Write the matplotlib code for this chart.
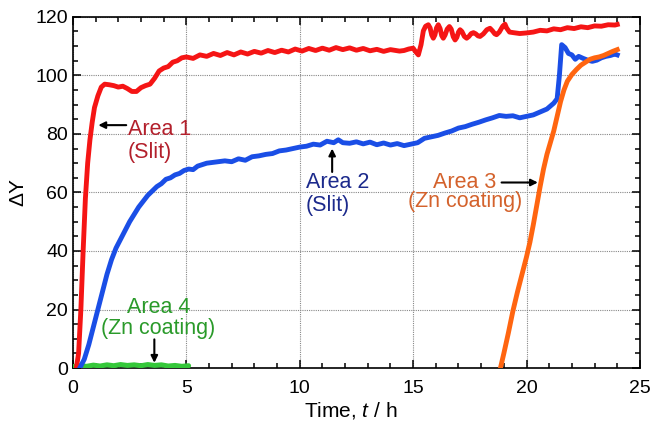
import matplotlib
matplotlib.use("Agg")
import matplotlib.pyplot as plt
from matplotlib.ticker import MultipleLocator

plt.rcParams['font.family'] = ['Liberation Sans', 'DejaVu Sans']
plt.rcParams['mathtext.fontset'] = 'custom'
plt.rcParams['mathtext.rm'] = 'Liberation Sans'
plt.rcParams['mathtext.it'] = 'Liberation Sans:italic'

# Area 1 (Slit) - red
t1 = [0.15, 0.25, 0.35, 0.45, 0.55, 0.65, 0.75, 0.85, 0.95, 1.1, 1.25, 1.4, 1.6, 1.8, 2.0, 2.2, 2.4, 2.6, 2.8,
      3.0, 3.2, 3.4, 3.6, 3.8, 4.0, 4.2, 4.4, 4.6, 4.8, 5.0, 5.3, 5.6, 5.9, 6.2, 6.5, 6.8, 7.1, 7.4, 7.7, 8.0,
      8.3, 8.6, 8.9, 9.2, 9.5, 9.8, 10.1, 10.4, 10.7, 11.0, 11.3, 11.6, 11.9, 12.2, 12.5, 12.8, 13.1, 13.4,
      13.7, 14.0, 14.4, 14.6, 14.8, 15.0, 15.1, 15.23, 15.35, 15.45, 15.55, 15.67, 15.75, 15.82, 15.89, 15.96,
      16.03, 16.11, 16.19, 16.26, 16.33, 16.41, 16.5, 16.6, 16.68, 16.77, 16.85, 16.93, 17.0, 17.07, 17.15,
      17.26, 17.36, 17.46, 17.56, 17.66, 17.76, 17.86, 17.95, 18.1, 18.25, 18.39, 18.5, 18.6, 18.68, 18.8,
      18.95, 19.05, 19.12, 19.25, 19.42, 19.7, 20.0, 20.3, 20.6, 20.9, 21.2, 21.5, 21.8, 22.1, 22.4, 22.7,
      23.0, 23.3, 23.6, 23.9, 24.0]
y1 = [0, 5, 20, 40, 58, 70, 78, 84, 89, 93, 96, 97, 96.8, 96.5, 96, 96.3, 95.5, 94.5, 94.5,
      95.8, 96.5, 97, 99, 101.5, 102.5, 103, 104.5, 105, 106, 106.3, 105.8, 107, 106.5, 107.5, 106.8, 107.8,
      107, 108, 107.3, 108.2, 107.6, 108.5, 107.8, 108.6, 108, 109, 108.3, 109.2, 108.5, 109.3, 108.6, 109.5,
      108.8, 109.4, 108.6, 109.2, 108.4, 108.9, 108.2, 108.8, 108.3, 108.5, 109.0, 109.3, 108.2, 107.0,
      110.5, 115.2, 116.8, 117.3, 116.2, 113.8, 112.7, 113.8, 116.2, 117.3, 116.0, 113.6, 112.7, 113.8,
      115.8, 116.7, 115.8, 113.2, 112.1, 113.0, 114.8, 115.6, 115.0, 113.3, 112.7, 113.3, 114.3, 114.6,
      114.2, 113.5, 113.3, 114.2, 115.6, 116.1, 115.2, 114.2, 113.9, 114.8, 116.8, 117.5, 116.2, 114.8,
      114.6, 114.3, 114.5, 114.8, 115.4, 115.2, 115.9, 115.6, 116.3, 116.0, 116.6, 116.3, 116.9, 116.8,
      117.3, 117.2, 117.4]

# Area 2 (Slit) - blue
t2 = [0.3, 0.5, 0.7, 0.9, 1.1, 1.3, 1.5, 1.7, 1.9, 2.1, 2.3, 2.5, 2.7, 2.9, 3.1, 3.3, 3.5, 3.7, 3.9, 4.1,
      4.3, 4.5, 4.7, 4.9, 5.1, 5.3, 5.5, 5.7, 5.9, 6.1, 6.4, 6.7, 7.0, 7.3, 7.6, 7.9, 8.2, 8.5, 8.8, 9.1,
      9.4, 9.7, 10.0, 10.3, 10.6, 10.9, 11.2, 11.5, 11.7, 11.9, 12.2, 12.5, 12.8, 13.1, 13.4, 13.7, 14.0,
      14.3, 14.6, 14.9, 15.2, 15.5, 15.8, 16.1, 16.4, 16.7, 17.0, 17.3, 17.6, 17.9, 18.2, 18.5, 18.8, 19.1,
      19.4, 19.7, 20.0, 20.3, 20.6, 20.9, 21.2, 21.35, 21.45, 21.55, 21.7, 21.85, 22.0, 22.15, 22.3, 22.5,
      22.7, 22.9, 23.1, 23.3, 23.5, 23.7, 23.9, 24.0]
y2 = [0, 3, 8, 14, 20, 26, 32, 37, 41, 44, 47, 50, 52.5, 55, 57, 59, 60.5, 62, 63, 64.5,
      65, 66, 66.5, 67.5, 68, 67.8, 69, 69.5, 70, 70.2, 70.5, 70.8, 70.5, 71.5, 71, 72.2, 72.5, 73, 73.3, 74.2,
      74.5, 75, 75.5, 75.8, 76.5, 76.2, 77.5, 77, 78, 77, 76.8, 77.3, 76.6, 77.2, 76.3, 76.9, 76.2,
      76.7, 76, 76.5, 77, 78.5, 79, 79.5, 80.3, 81, 82, 82.5, 83.3, 84, 84.8, 85.5, 86.3, 86,
      86.2, 85.5, 86, 86.5, 87.5, 88.5, 90.5, 92, 100, 110.5, 109.5, 107.5, 107, 105.5, 106.5, 105.8,
      105.2, 104.8, 105.2, 106, 106.5, 106.8, 107.3, 107]

# Area 3 (Zn coating) - orange
t3 = [18.85, 19.0, 19.2, 19.4, 19.6, 19.8, 20.0, 20.15, 20.3, 20.45, 20.6, 20.75, 20.9, 21.05, 21.2, 21.35,
      21.5, 21.65, 21.8, 22.0, 22.2, 22.4, 22.6, 22.8, 23.0, 23.2, 23.4, 23.6, 23.8, 24.0]
y3 = [0, 5, 12, 19.5, 26, 32, 38, 43, 49, 55.5, 62, 68, 73, 77, 81, 86,
      91, 95, 98, 100.3, 102, 103.5, 104.5, 105.5, 106, 106.3, 106.8, 107.5, 108.2, 108.8]

# Area 4 (Zn coating) - green
t4 = [0, 0.3, 0.6, 0.9, 1.2, 1.5, 1.8, 2.1, 2.4, 2.7, 3.0, 3.3, 3.6, 3.9, 4.2, 4.5, 4.8, 5.1]
y4 = [0.5, 0.8, 0.6, 1.0, 0.7, 1.1, 0.8, 1.2, 0.9, 1.1, 0.8, 1.2, 0.9, 1.1, 0.7, 0.9, 0.6, 0.8]

xticks = [0, 5, 10, 15, 20, 25]
yticks = [0, 20, 40, 60, 80, 100, 120]

fig = plt.figure(figsize=(6.57, 4.32), dpi=100)
ax = fig.add_axes([0.111, 0.148, 0.863, 0.813])

ax.plot(t4, y4, color='#35c83a', lw=3.6, solid_capstyle='round', zorder=3)
ax.plot(t1, y1, color='#f51515', lw=3.5, solid_joinstyle='round', zorder=4)
ax.plot(t2, y2, color='#1a4ee6', lw=3.5, solid_joinstyle='round', zorder=4)
ax.plot(t3, y3, color='#ff6510', lw=3.5, solid_joinstyle='round', zorder=5)

ax.set_xlim(0, 25)
ax.set_ylim(0, 120)
ax.set_xticks(xticks)
ax.set_yticks(yticks)
ax.xaxis.set_minor_locator(MultipleLocator(1))
ax.yaxis.set_minor_locator(MultipleLocator(5))
ax.tick_params(which='both', direction='in', top=True, right=True, labelsize=14, width=1.1)
ax.tick_params(which='major', length=6)
ax.tick_params(which='minor', length=3.5)
ax.tick_params(axis='x', which='major', pad=8.5)
ax.tick_params(axis='y', which='major', pad=3.5)
for s in ax.spines.values():
    s.set_linewidth(1.2)
ax.grid(True, which='major', color='#888888', linestyle=(0, (1, 1)), linewidth=0.8)
ax.set_axisbelow(True)

ax.set_xlabel('Time, $t$ / h', fontsize=15)
ax.xaxis.set_label_coords(0.49, -0.092)
ax.set_ylabel('ΔY', fontsize=15)
ax.yaxis.set_label_coords(-0.08, 0.5)

arrow = dict(arrowstyle='-|>', color='black', lw=1.5, mutation_scale=10, shrinkA=0, shrinkB=0)
fs = 15.5

# Area 1
ax.annotate('', xy=(1.12, 83), xytext=(2.35, 83), arrowprops=arrow)
ax.text(2.43, 79.7, 'Area 1', color='#b3202c', fontsize=fs, ha='left', va='baseline')
ax.text(2.43, 71.8, '(Slit)', color='#b3202c', fontsize=fs, ha='left', va='baseline')

# Area 2
ax.annotate('', xy=(11.43, 75.0), xytext=(11.43, 67.0), arrowprops=arrow)
ax.text(10.27, 61.4, 'Area 2', color='#1c2a8c', fontsize=fs, ha='left', va='baseline')
ax.text(10.27, 53.7, '(Slit)', color='#1c2a8c', fontsize=fs, ha='left', va='baseline')

# Area 3
ax.annotate('', xy=(20.5, 63.4), xytext=(18.9, 63.4), arrowprops=arrow)
ax.text(17.28, 61.5, 'Area 3', color='#d4622c', fontsize=fs, ha='center', va='baseline')
ax.text(17.28, 55.0, '(Zn coating)', color='#d4622c', fontsize=fs, ha='center', va='baseline')

# Area 4
ax.annotate('', xy=(3.59, 1.8), xytext=(3.59, 9.8), arrowprops=arrow)
ax.text(3.77, 18.7, 'Area 4', color='#2a9a2a', fontsize=fs, ha='center', va='baseline')
ax.text(3.77, 11.5, '(Zn coating)', color='#2a9a2a', fontsize=fs, ha='center', va='baseline')

fig.savefig('out.png', dpi=100)
